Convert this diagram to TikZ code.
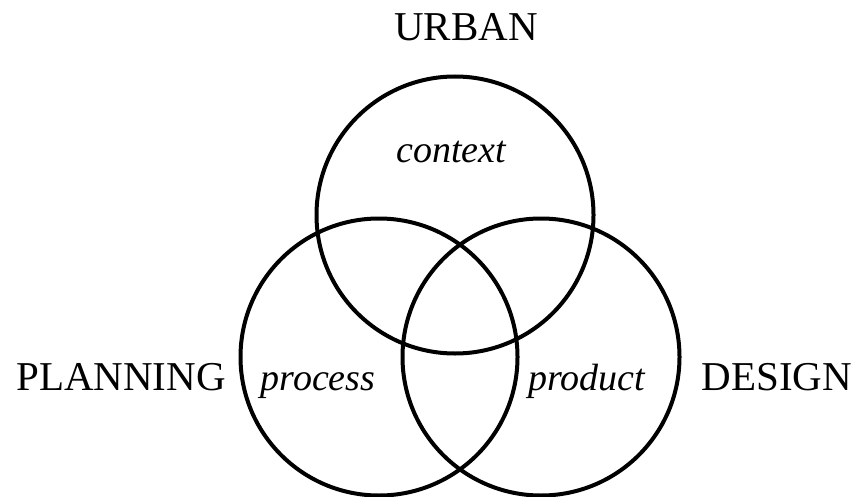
\documentclass[tikz,border=0pt]{standalone}
\usepackage{fontspec}
\setmainfont{Liberation Serif}
\begin{document}
\begin{tikzpicture}[x=1pt,y=-1pt]
        \tikzstyle{setCircle}=[draw,circle,line width=4pt,minimum size=277pt,inner sep=0pt]
        \tikzstyle{fieldLabel}=[anchor=base,inner sep=0pt,font=\fontsize{41}{41}\selectfont]
        \tikzstyle{aspectLabel}=[anchor=base,inner sep=0pt,font=\fontsize{38}{38}\selectfont\itshape]
    \useasboundingbox (0,0) rectangle (858,497);

    \node[setCircle] (urban) at (455, 215) {};
    \node[setCircle] (planning) at (379, 357) {};
    \node[setCircle] (design) at (541, 357) {};

    \node[fieldLabel] (lurban) at (466, 41) {URBAN};
    \node[fieldLabel] (lplanning) at (121, 390) {PLANNING};
    \node[fieldLabel] (ldesign) at (777, 390) {DESIGN};

    \node[aspectLabel] (context) at (451, 163) {context};
    \node[aspectLabel] (process) at (318, 390) {process};
    \node[aspectLabel] (product) at (587, 390) {product};
\end{tikzpicture}
\end{document}
